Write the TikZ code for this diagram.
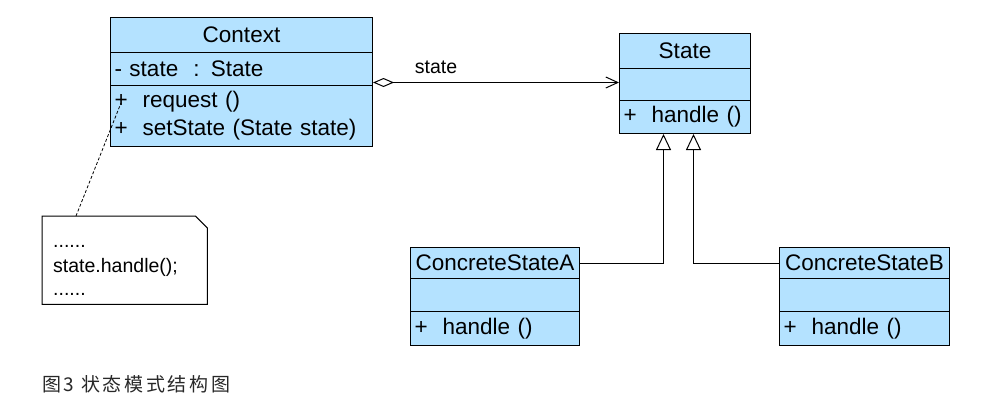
\documentclass[tikz,border=0pt]{standalone}
\usepackage{fontspec}
\setmainfont{Liberation Sans}
\newfontfamily\cjk[LetterSpace=14]{Noto Sans CJK SC}
\usetikzlibrary{arrows.meta}
\definecolor{clsblue}{RGB}{180,226,255}
\definecolor{captxt}{RGB}{40,40,40}
\tikzset{
  cls/.style={draw, line width=1pt, fill=clsblue, inner sep=0pt, font=\fontsize{22.5}{28}\selectfont},
  ltxt/.style={align=left, inner xsep=4pt},
  notetext/.style={anchor=base west, inner sep=0pt, font=\fontsize{19.5}{24}\selectfont},
  agg/.style={line width=1pt, {Diamond[open,length=21pt,width=9pt]}-{Straight Barb[length=12pt,width=11pt]}},
  inh/.style={line width=1pt, -{Triangle[open,length=16pt,width=15pt]}},
  notelink/.style={line width=0.8pt, dash pattern=on 3pt off 2pt},
}
\begin{document}
\begin{tikzpicture}[x=1pt,y=-1pt]
\useasboundingbox (0,0) rectangle (1003,407);
% Context
\node[cls, anchor=north west, minimum width=262pt, minimum height=35pt] (ctxT) at (110,17) {Context};
\node[cls, ltxt, anchor=north west, text width=254pt, minimum height=33pt] (ctxA) at (110,52) {- state\ \ : State};
\node[cls, ltxt, anchor=north west, text width=254pt, minimum height=61pt] (ctxM) at (110,85) {+\ \ request ()\\+\ \ setState (State state)};
% State
\node[cls, anchor=north west, minimum width=131pt, minimum height=35pt] (stT) at (619,33) {State};
\node[cls, ltxt, anchor=north west, text width=123pt, minimum height=32pt] (stA) at (619,68) {};
\node[cls, ltxt, anchor=north west, text width=123pt, minimum height=33pt] (stM) at (619,100) {+\ \ handle ()};
% ConcreteStateA
\node[cls, anchor=north west, minimum width=169pt, minimum height=31pt] (csAT) at (410,247) {ConcreteStateA};
\node[cls, ltxt, anchor=north west, text width=161pt, minimum height=33pt] (csAA) at (410,278) {};
\node[cls, ltxt, anchor=north west, text width=161pt, minimum height=34pt] (csAM) at (410,311) {+\ \ handle ()};
% ConcreteStateB
\node[cls, anchor=north west, minimum width=170pt, minimum height=31pt] (csBT) at (779,247) {ConcreteStateB};
\node[cls, ltxt, anchor=north west, text width=162pt, minimum height=33pt] (csBA) at (779,278) {};
\node[cls, ltxt, anchor=north west, text width=162pt, minimum height=34pt] (csBM) at (779,311) {+\ \ handle ()};
% association
\draw[agg] ([yshift=-13.5pt]ctxA.east) -- ([yshift=-13.5pt]ctxA.east -| stA.west);
\node[font=\fontsize{19.5}{22}\selectfont] (lbl) at (436,67) {state};
% generalizations
\draw[inh] (csAT.east) -| ([xshift=-21.5pt]stM.south);
\draw[inh] (csBT.west) -| ([xshift=8.5pt]stM.south);
% note
\node[anchor=north west, minimum width=165pt, minimum height=88pt, inner sep=0pt] (note) at (42,216) {};
\draw[line width=1pt, fill=white] (note.north west) -- ([xshift=-12pt]note.north east) -- ([yshift=-12pt]note.north east) -- (note.south east) -- (note.south west) -- cycle;
\node[notetext] (notel1) at (53,247) {......};
\node[notetext] (notel2) at (53,272) {state.handle();};
\node[notetext] (notel3) at (53,295) {......};
\coordinate (ctxpt) at (121,103);
\draw[notelink] ([xshift=34pt]note.north west) -- (ctxpt);
% caption
\node[anchor=west, inner sep=0pt, text=captxt, font=\cjk\fontsize{19}{22}\selectfont] (cap) at (42,384) {图3 状态模式结构图};
\end{tikzpicture}
\end{document}
